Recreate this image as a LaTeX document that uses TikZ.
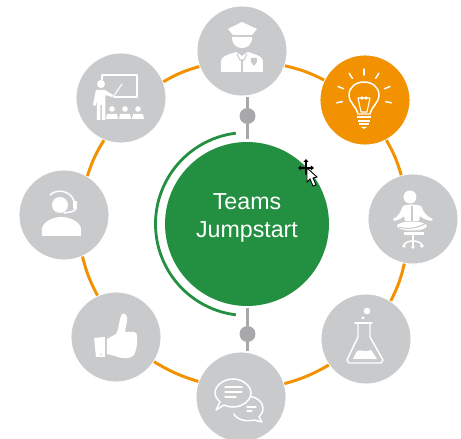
\documentclass[tikz,border=0pt]{standalone}
\usepackage{fontspec}
\setmainfont{Liberation Sans}
\definecolor{ringorange}{HTML}{F39200}
\definecolor{hubgreen}{HTML}{239041}
\definecolor{spokegray}{HTML}{C9CACC}
\definecolor{stemgray}{HTML}{A8A8AA}
\begin{document}
\begin{tikzpicture}[
        x=0.02cm, y=-0.02cm,
        spoke/.style={circle, draw=white, line width=0.5pt, fill=spokegray, minimum size=1.8cm, inner sep=0pt},
        hot/.style={spoke, fill=ringorange},
        hub/.style={circle, fill=hubgreen, minimum size=3.28cm, inner sep=0pt, text=white, align=center, font=\fontsize{13.2}{16}\selectfont},
        pin/.style={circle, fill=stemgray, minimum size=0.32cm, inner sep=0pt},
        ring/.style={ringorange, line width=1.7pt, bend left=7},
        stem/.style={stemgray, line width=1.7pt},
        solid icon/.style={fill=white, draw=none},
        line icon/.style={draw=white, line width=0.85pt, line cap=round, line join=round},
        fine icon/.style={draw=white, line width=0.6pt, line cap=round, line join=round},
        cut icon/.style={draw=spokegray, line width=0.6pt}
    ]
    \clip (0,0) rectangle (461,439);

    % Outer circles
    \node[spoke] (guard) at (242,51) {};
    \node[hot] (bulb) at (365,100) {};
    \node[spoke] (chair) at (413,219) {};
    \node[spoke] (flask) at (366,339) {};
    \node[spoke] (chat) at (241,397) {};
    \node[spoke] (thumb) at (116,337) {};
    \node[spoke] (headset) at (64,215) {};
    \node[spoke] (teacher) at (121,98) {};

    % Centre
    \node[hub] (jump) at (247,224) {\mbox{}\\[-14pt]Teams\\Jumpstart};

    % Orange ring
    \draw[ring] (guard.-19) to (bulb.154);
    \draw[ring] (bulb.-62) to (chair.105);
    \draw[ring] (chair.-101) to (flask.57);
    \draw[ring] (flask.-145) to (chat.17);
    \draw[ring] (chat.160) to (thumb.-33);
    \draw[ring] (thumb.114) to (headset.-66);
    \draw[ring] (headset.59) to (teacher.-112);
    \draw[ring] (teacher.21) to (guard.-160);

    % Stems
    \node[pin] (pintop) at (247.5,116) {};
    \node[pin] (pinbot) at (247.5,334) {};
    \coordinate (stema) at (247.5,97);
    \coordinate (stemb) at (247.5,139);
    \coordinate (stemc) at (247.5,308);
    \coordinate (stemd) at (247.5,351);
    \draw[stem] (stema) -- (pintop);
    \draw[stem] (pintop) -- (stemb);
    \draw[stem] (stemc) -- (pinbot);
    \draw[stem] (pinbot) -- (stemd);

    % Green arc
    \draw[hubgreen, line width=1.6pt] (jump.center) ++(-97:91.5) arc[start angle=-97, end angle=-263, radius=91.5];

    % Guard
    \begin{scope}[shift={(guard)}]
        \fill[solid icon] (-14,-22) -- (0,-29) -- (15,-22) -- (10,-16) -- (-9,-16) -- cycle;
        \fill[solid icon] (-10,-14) -- (10,-14) .. controls (10,-6) and (5,-3) .. (0,-3) .. controls (-5,-3) and (-10,-6) .. (-10,-14) -- cycle;
        \fill[solid icon] (-21,21) -- (-21,10) .. controls (-21,5) and (-12,3) .. (-6,1) -- (0,5) -- (6,1) .. controls (12,3) and (21,5) .. (21,10) -- (21,21) -- cycle;
        \draw[cut icon] (-5,3) -- (-2,9) -- (2,9) -- (5,3);
        \draw[cut icon] (0,9) -- (0,21);
        \fill[spokegray] (9,7) -- (15,7) -- (15,11) -- (12,15) -- (9,11) -- cycle;
    \end{scope}

    % Bulb
    \begin{scope}[shift={(bulb)}]
        \foreach \a in {-90,-58,-122,-22,-158,12,-192}
            \draw[line icon] (-1,-3) ++(\a:22) -- ++(\a:6);
        \draw[line icon] (-7,14) .. controls (-8,7) and (-16,3) .. (-16,-5) .. controls (-16,-13) and (-9,-18) .. (-1,-18) .. controls (7,-18) and (14,-13) .. (14,-5) .. controls (14,3) and (6,7) .. (5,14) -- cycle;
        \draw[fine icon] (-7,-2) -- (5,-2) -- (2,12) -- (-4,12) -- cycle;
        \draw[fine icon] (-3,-2) circle[radius=1.2] (1,-2) circle[radius=1.2];
        \fill[solid icon] (-8,16) rectangle (6,18.5);
        \fill[solid icon] (-7,20) rectangle (5,22);
        \fill[solid icon] (-6,23.5) rectangle (4,25.5);
        \fill[solid icon] (-4,27) -- (2,27) -- (-1,29) -- cycle;
    \end{scope}

    % Chair
    \begin{scope}[shift={(chair)}]
        \fill[solid icon] (-3,-22) circle[radius=6.5];
        \fill[solid icon] (-10,-13) .. controls (-13,-6) and (-15,-2) .. (-20,0) -- (-19,2) .. controls (-14,1) and (-11,-1) .. (-9,-3) -- (-8,2) -- (6,2) -- (7,-3) .. controls (9,-1) and (13,1) .. (18,2) -- (20,0) .. controls (14,-2) and (11,-6) .. (8,-13) .. controls (4,-15) and (-6,-15) .. (-10,-13) -- cycle;
        \draw[cut icon] (-1,-13) -- (-1,2);
        \fill[solid icon] (-1,7) ellipse[x radius=15, y radius=4.5];
        \draw[cut icon] (-14,8) .. controls (-6,11) and (6,9) .. (13,4);
        \fill[solid icon] (-9,13) rectangle (11,16);
        \draw[line icon] (0,16) -- (0,27);
        \draw[line icon] (-9,26) .. controls (-8,23) and (-3,22) .. (0,22) .. controls (3,22) and (8,23) .. (9,26);
        \fill[solid icon] (-9,27) circle[radius=1.8] (0,28) circle[radius=1.8] (9,27) circle[radius=1.8];
    \end{scope}

    % Flask
    \begin{scope}[shift={(flask)}]
        \fill[solid icon] (1,-28) circle[radius=3.3];
        \fill[solid icon] (-3,-21) circle[radius=1.6];
        \draw[line icon] (-11,-16) -- (6,-16);
        \draw[line icon] (-8,-16) -- (-8,-2) -- (-19,21) -- (-17,24) -- (15,24) -- (17,21) -- (4,-2) -- (4,-16);
        \fill[solid icon] (-13,20) -- (-9,12) .. controls (-5,10) and (-1,14) .. (5,11) -- (11,20) -- cycle;
    \end{scope}

    % Chat
    \begin{scope}[shift={(chat)}]
        \draw[line icon] (7,-1) .. controls (16,0) and (22,5) .. (22,11) .. controls (22,15) and (20,18) .. (18,20) -- (21,25) -- (13,23) .. controls (6,25) and (-4,23) .. (-7,17);
        \draw[fine icon] (6,10) -- (15,10);
        \draw[fine icon] (6,14) -- (11,14);
        \filldraw[line icon, fill=spokegray] (-8,-18) .. controls (2,-18) and (10,-11) .. (10,-4) .. controls (10,3) and (2,10) .. (-8,10) .. controls (-12,10) and (-14,9) .. (-17,8) -- (-25,13) -- (-21,5) .. controls (-24,2) and (-26,-1) .. (-26,-4) .. controls (-26,-11) and (-18,-18) .. (-8,-18) -- cycle;
        \draw[line icon] (-16,-10) -- (1,-10);
        \draw[line icon] (-16,-5) -- (1,-5);
        \draw[line icon] (-16,0) -- (-5,0);
    \end{scope}

    % Thumb
    \begin{scope}[shift={(thumb)}]
        \fill[solid icon] (-22,1) -- (-11,0) -- (-11,20) -- (-20,20) -- cycle;
        \fill[spokegray] (-15,17) circle[radius=0.9];
        \fill[solid icon] (-9,2) -- (0,-3) .. controls (3,-8) and (3,-18) .. (6,-23) .. controls (9,-25) and (12,-21) .. (11,-16) -- (9,-5) -- (18,-5) .. controls (22,-4) and (21,0) .. (21,4) .. controls (21,10) and (20,14) .. (18,18) .. controls (15,22) and (6,22) .. (-1,19) -- (-9,17) -- cycle;
    \end{scope}

    % Headset
    \begin{scope}[shift={(headset)}]
        \fill[solid icon] (-4,-10) circle[radius=8];
        \fill[solid icon] (-22,21) -- (-22,13) .. controls (-20,6) and (-10,2) .. (-3,2) .. controls (5,2) and (15,6) .. (17,13) -- (17,21) -- cycle;
        \draw[line icon] (-14,-20) .. controls (-7,-27) and (7,-24) .. (10,-14);
        \draw[line icon] (12,-6) .. controls (10,-3) and (5,-3) .. (0,-2);
        \fill[solid icon] (9,-14) rectangle (13,-6);
    \end{scope}

    % Teacher
    \begin{scope}[shift={(teacher)}]
        \draw[line icon] (-19,-18) -- (-19,-23) -- (16,-23) -- (16,-1) -- (-7,-1);
        \draw[fine icon] (-8,-1) -- (1,-14);
        \fill[solid icon] (-20,-14) circle[radius=4];
        \fill[solid icon] (-25,-8) -- (-16,-8) -- (-8,-3) -- (-9,-1) -- (-15.5,-3) -- (-15.5,22) -- (-19,22) -- (-19,7) -- (-20.5,7) -- (-20.5,22) -- (-24,22) -- (-24,2) -- (-25.5,8) -- (-28,7) -- cycle;
        \foreach \p in {-9,4,17} {
            \fill[solid icon] (\p,11) circle[radius=2.8];
            \fill[solid icon] (\p-6,21) -- (\p-5,16) -- (\p+5,16) -- (\p+6,21) -- cycle;
        }
    \end{scope}

    % Pointer
    \draw[black, line width=0.6pt] (300,168) -- (312,168);
    \draw[black, line width=0.6pt] (306,161) -- (306,175);
    \fill[black] (298,168) -- (301,165.5) -- (301,170.5) -- cycle;
    \fill[black] (314,168) -- (311,165.5) -- (311,170.5) -- cycle;
    \fill[black] (306,159) -- (303.5,162) -- (308.5,162) -- cycle;
    \filldraw[fill=white, draw=black, line width=0.5pt] (307,168) -- (307,182) -- (310,179) -- (313,186) -- (316,185) -- (313,178) -- (317,177) -- cycle;
\end{tikzpicture}
\end{document}
